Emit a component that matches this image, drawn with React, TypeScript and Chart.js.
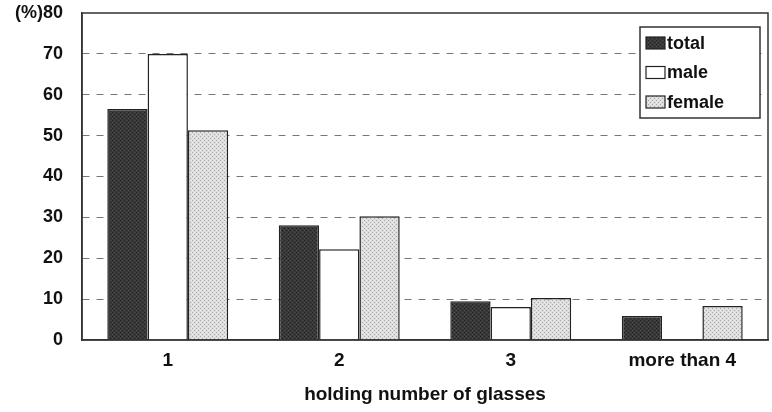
import React, { useEffect, useRef } from "react";
import { Chart, registerables } from "chart.js";

Chart.register(...registerables);

const categories = ["1", "2", "3", "more than 4"];
const seriesNames = ["total", "male", "female"];
const totalValues = [56.5, 28.1, 9.5, 5.9];
const maleValues = [70.0, 22.2, 8.1, 0];
const femaleValues = [51.3, 30.3, 10.3, 8.3];
const yMax = 80;
const yStep = 10;

const FONT = "'Liberation Sans', Arial, sans-serif";

function makePattern(base: string, dot: string, dot2: string): CanvasPattern | string {
  const c = document.createElement("canvas");
  c.width = 4;
  c.height = 4;
  const g = c.getContext("2d");
  if (!g) return base;
  g.fillStyle = base;
  g.fillRect(0, 0, 4, 4);
  g.fillStyle = dot;
  g.fillRect(0, 0, 1, 1);
  g.fillRect(2, 2, 1, 1);
  g.fillStyle = dot2;
  g.fillRect(2, 0, 1, 1);
  g.fillRect(0, 2, 1, 1);
  const p = g.createPattern(c, "repeat");
  return p || base;
}

export default function App() {
  const ref = useRef<HTMLCanvasElement | null>(null);

  useEffect(() => {
    if (!ref.current) return;
    const totalFill = makePattern("#3a3a3a", "#1c1c1c", "#4a4a4a");
    const femaleFill = makePattern("#dedede", "#a8a8a8", "#ececec");
    const fills = [totalFill, "#ffffff", femaleFill];

    const frameAndLegend = {
      id: "frameAndLegend",
      afterDraw(chart: any) {
        const { ctx, chartArea } = chart;
        ctx.save();
        ctx.strokeStyle = "#333";
        ctx.lineWidth = 1.5;
        ctx.strokeRect(chartArea.left, chartArea.top, chartArea.right - chartArea.left, chartArea.bottom - chartArea.top);
        // legend box
        const bx = 640, by = 27, bw = 120, bh = 91;
        ctx.fillStyle = "#fff";
        ctx.fillRect(bx, by, bw, bh);
        ctx.strokeStyle = "#333";
        ctx.lineWidth = 1.5;
        ctx.strokeRect(bx, by, bw, bh);
        ctx.font = `bold 18px ${FONT}`;
        ctx.textBaseline = "middle";
        ctx.textAlign = "left";
        chart.data.datasets.forEach((ds: any, i: number) => {
          const cy = 43 + i * 29.5;
          ctx.fillStyle = ds.backgroundColor;
          ctx.fillRect(646, cy - 6, 19, 12);
          ctx.strokeStyle = "#222";
          ctx.lineWidth = 1.2;
          ctx.strokeRect(646, cy - 6, 19, 12);
          ctx.fillStyle = "#111";
          ctx.fillText(ds.label, 667, cy + 1);
        });
        ctx.restore();
      },
    };

    const chart = new Chart(ref.current, {
      type: "bar",
      data: {
        labels: categories,
        datasets: [totalValues, maleValues, femaleValues].map((vals, i) => ({
          label: seriesNames[i],
          data: vals,
          backgroundColor: fills[i] as any,
          borderColor: "#222",
          borderWidth: 1.5,
          borderSkipped: "start",
          categoryPercentage: 0.705,
          barPercentage: 1.0,
        })),
      },
      options: {
        animation: false,
        responsive: true,
        maintainAspectRatio: false,
        layout: { padding: { left: 0, right: 4, top: 13, bottom: 6 } },
        plugins: {
          legend: { display: false },
          tooltip: { enabled: false },
        },
        scales: {
          x: {
            grid: { display: false, drawTicks: false },
            border: { display: true, color: "#333", width: 1.5 },
            ticks: {
              color: "#111",
              padding: 9,
              font: { family: FONT, size: 19, weight: "bold" },
              maxRotation: 0,
            },
            title: {
              display: true,
              text: "holding number of glasses",
              color: "#111",
              padding: { top: 0, bottom: 0 },
              font: { family: FONT, size: 19, weight: "bold" },
            },
            afterFit: (scale: any) => {
              scale.height = 66;
              scale.paddingLeft = 0;
              scale.paddingRight = 0;
            },
          },
          y: {
            min: 0,
            max: yMax,
            grid: {
              drawTicks: false,
              color: (c: any) => (c.tick && (c.tick.value === 0 || c.tick.value === yMax) ? "rgba(0,0,0,0)" : "#777"),
              lineWidth: 1,
            },
            border: { display: true, color: "#333", width: 1.5, dash: [7, 7] },
            ticks: {
              stepSize: yStep,
              color: "#111",
              padding: 19,
              font: { family: FONT, size: 18, weight: "bold" },
              callback: (v: any) => (v === yMax ? `(%)${v}` : `${v}`),
            },
            afterFit: (scale: any) => {
              scale.width = 82;
              scale.paddingTop = 0;
              scale.paddingBottom = 0;
            },
          },
        },
      },
      plugins: [frameAndLegend],
    });
    return () => chart.destroy();
  }, []);

  return (
    <div style={{ position: "absolute", left: 0, top: 0, width: 772, height: 412, background: "#fff" }}>
      <canvas ref={ref} />
    </div>
  );
}
